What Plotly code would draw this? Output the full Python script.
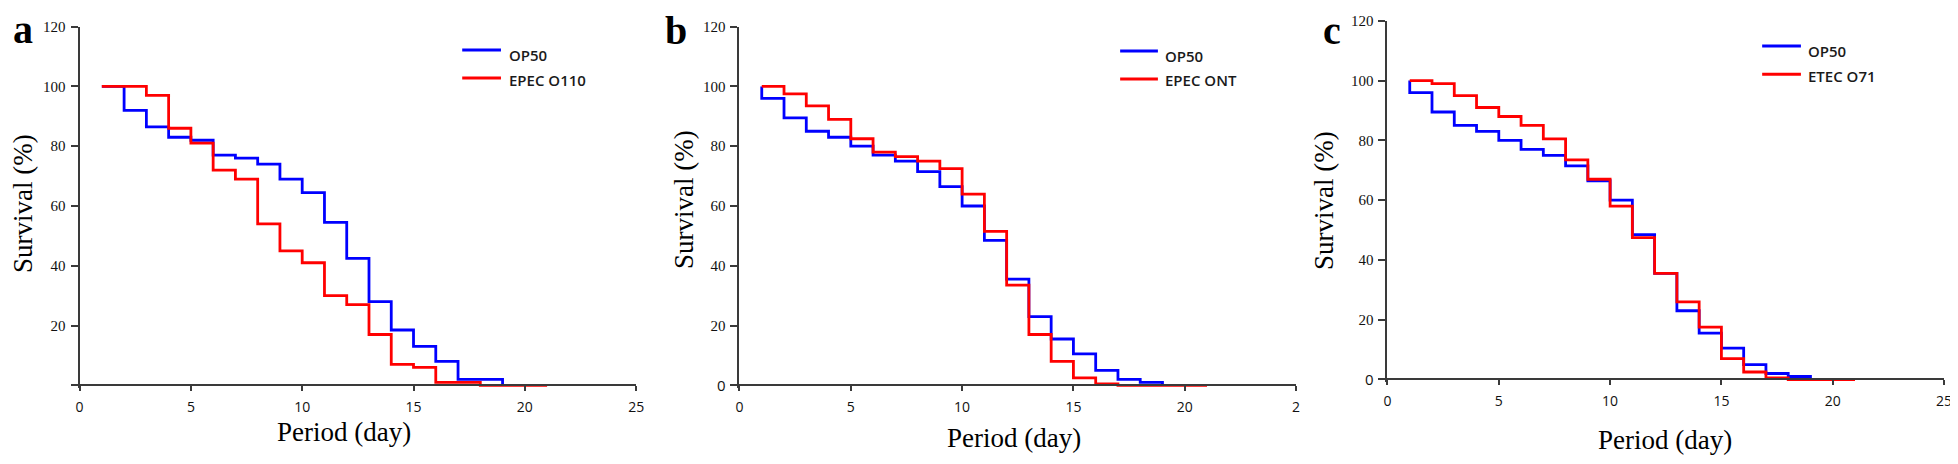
import plotly.graph_objects as go

# The page body has a default 8px margin, so the figure is drawn 8px smaller
# and every reference pixel position is shifted by that offset.
OFF = 8
W, H = 1958 - OFF, 464 - OFF

# ---------------- data ----------------
days_a_op50 = list(range(1, 20))
op50_a = [100, 92, 86.5, 83, 82, 77, 76, 74, 69, 64.5, 54.5, 42.5, 28, 18.5, 13, 8, 2, 2, 0]
days_a_epec = list(range(1, 22))
epec_o110 = [100, 100, 97, 86, 81, 72, 69, 54, 45, 41, 30, 27, 17, 7, 6, 1, 1, 0, 0, 0, 0]

days_b_op50 = [1] + list(range(1, 20))
op50_b = [100, 96, 89.5, 85, 83, 80, 77, 75, 71.5, 66.5, 60, 48.5, 35.5, 23, 15.5, 10.5, 5, 2, 1, 0]
days_b_epec = list(range(1, 22))
epec_ont = [100, 97.5, 93.5, 89, 82.5, 78, 76.5, 75, 72.5, 64, 51.5, 33.5, 17, 8, 2.5, 0.5, 0, 0, 0, 0, 0]

days_c_op50 = [1] + list(range(1, 20))
op50_c = [100, 96, 89.5, 85, 83, 80, 77, 75, 71.5, 66.5, 60, 48.5, 35.5, 23, 15.5, 10.5, 5, 2, 1, 0]
days_c_etec = list(range(1, 22))
etec_o71 = [100, 99, 95, 91, 88, 85, 80.5, 73.5, 67, 58, 47.5, 35.5, 26, 17.5, 7, 2.5, 0.5, 0, 0, 0, 0]

panel_letters = ["a", "b", "c"]
series_names = [("OP50", "EPEC O110"), ("OP50", "EPEC ONT"), ("OP50", "ETEC O71")]
x_tickvals = [0, 5, 10, 15, 20, 25]
x_ticktext = [["0", "5", "10", "15", "20", "25"],
              ["0", "5", "10", "15", "20", "2"],
              ["0", "5", "10", "15", "20", "25"]]
y_tickvals = [0, 20, 40, 60, 80, 100, 120]
SANS0 = "<span style='font-family:Open Sans'>0</span>"
y_ticktext = [["", "20", "40", "60", "80", "100", "120"],
              [SANS0, "20", "40", "60", "80", "100", "120"],
              [SANS0, "20", "40", "60", "80", "100", "120"]]

BLUE = "#0000FF"
RED = "#FF0000"
AXC = "#3a3a3a"
SERIF = "Liberation Serif, Times New Roman, serif"
SANS = "Open Sans, Liberation Sans, sans-serif"

def px(xp):
    return (xp - OFF) / W

def py(yp):
    return 1 - (yp - OFF) / H

# pixel geometry (reference frame) of each panel: x of 0 and 25, y of 0 and 120
panels = [
    dict(x0=76, x1=636, y0=389, y120=19),
    dict(x0=740, x1=1300, y0=389, y120=19),
    dict(x0=1392, x1=1952, y0=383, y120=13),
]

fig = go.Figure()

data = [
    (days_a_op50, op50_a, days_a_epec, epec_o110),
    (days_b_op50, op50_b, days_b_epec, epec_ont),
    (days_c_op50, op50_c, days_c_etec, etec_o71),
]

YMIN = -1
layout = dict(
    width=W, height=H,
    margin=dict(l=0, r=0, t=0, b=0),
    paper_bgcolor="white", plot_bgcolor="white",
    showlegend=False,
)

annotations = []
shapes = []

for i, (p, (dx1, y1, dx2, y2)) in enumerate(zip(panels, data)):
    n = "" if i == 0 else str(i + 1)
    xa, ya = "x" + n, "y" + n
    fig.add_trace(go.Scatter(x=dx1, y=y1, mode="lines", line=dict(color=BLUE, width=2.8, shape="hv"),
                             name=series_names[i][0], xaxis=xa, yaxis=ya))
    fig.add_trace(go.Scatter(x=dx2, y=y2, mode="lines", line=dict(color=RED, width=2.8, shape="hv"),
                             name=series_names[i][1], xaxis=xa, yaxis=ya))
    ppu = (p["y0"] - p["y120"]) / 120.0
    ybot = p["y0"] - YMIN * ppu
    layout["xaxis" + n] = dict(
        domain=[px(p["x0"]), px(p["x1"])], range=[0, 25], anchor="free", position=py(p["y0"]),
        showline=True, linecolor=AXC, linewidth=2, showgrid=False, zeroline=False,
        ticks="outside", ticklen=5, tickwidth=1.5, tickcolor=AXC,
        tickvals=x_tickvals, ticktext=x_ticktext[i],
        tickfont=dict(family=SANS, size=14, color="#111"), ticklabelstandoff=4,
    )
    layout["yaxis" + n] = dict(
        domain=[py(ybot), py(p["y120"])], range=[YMIN, 120], anchor=xa,
        showline=True, linecolor=AXC, linewidth=2, showgrid=False, zeroline=False,
        ticks="outside", ticklen=7, tickwidth=1.5, tickcolor=AXC,
        tickvals=y_tickvals, ticktext=y_ticktext[i],
        tickfont=dict(family=SERIF, size=15, color="#111"), ticklabelstandoff=2,
    )

# axis titles
xt = [(342, 437), (1016, 443), (1671, 445)]
yt = [(19, 201), (684, 197), (1328, 198)]
for (x, y) in xt:
    annotations.append(dict(text="Period (day)", x=px(x), y=py(y), xref="paper", yref="paper",
                            xanchor="center", yanchor="middle", showarrow=False,
                            font=dict(family=SERIF, size=27, color="#000")))
for (x, y) in yt:
    annotations.append(dict(text="Survival (%)", x=px(x), y=py(y), xref="paper", yref="paper",
                            xanchor="center", yanchor="middle", showarrow=False, textangle=-90,
                            font=dict(family=SERIF, size=27, color="#000")))

# panel letters
letters_pos = [(19, 22), (676, 23), (1336, 23)]
for letter, (x, y) in zip(panel_letters, letters_pos):
    annotations.append(dict(text="<b>%s</b>" % letter, x=px(x), y=py(y), xref="paper", yref="paper",
                            xanchor="center", yanchor="middle", showarrow=False,
                            font=dict(family=SERIF, size=40, color="#000")))

# legends (line sample + label)
legends = [
    dict(lx0=461, lx1=500, by=43, ry=72, tx=506, bty=48, rty=74),
    dict(lx0=1123, lx1=1161, by=44, ry=73, tx=1166, bty=49, rty=74),
    dict(lx0=1769, lx1=1808, by=39, ry=68, tx=1813, bty=44, rty=70),
]
for i, L in enumerate(legends):
    shapes.append(dict(type="line", xref="paper", yref="paper", x0=px(L["lx0"]), x1=px(L["lx1"]),
                       y0=py(L["by"]), y1=py(L["by"]), line=dict(color=BLUE, width=3)))
    shapes.append(dict(type="line", xref="paper", yref="paper", x0=px(L["lx0"]), x1=px(L["lx1"]),
                       y0=py(L["ry"]), y1=py(L["ry"]), line=dict(color=RED, width=3)))
    annotations.append(dict(text=series_names[i][0], x=px(L["tx"]), y=py(L["bty"]), xref="paper", yref="paper",
                            xanchor="left", yanchor="middle", showarrow=False,
                            font=dict(family=SANS, size=15, color="#1a1a1a", weight=600)))
    annotations.append(dict(text=series_names[i][1], x=px(L["tx"]), y=py(L["rty"]), xref="paper", yref="paper",
                            xanchor="left", yanchor="middle", showarrow=False,
                            font=dict(family=SANS, size=15, color="#1a1a1a", weight=600)))

layout["annotations"] = annotations
layout["shapes"] = shapes
fig.update_layout(**layout)
fig.write_html("out.html")
